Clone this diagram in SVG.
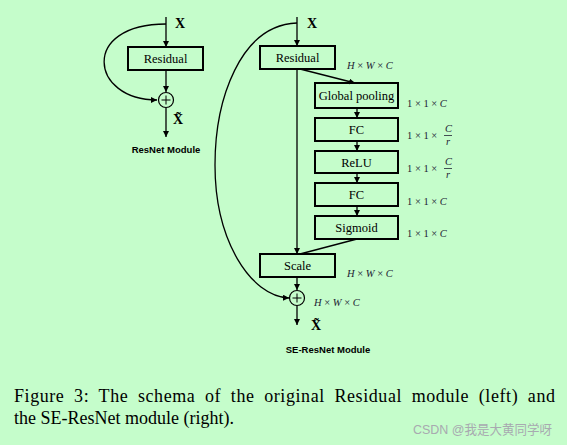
<svg xmlns="http://www.w3.org/2000/svg" width="567" height="445" viewBox="0 0 567 445">
<style>
.bg{fill:#c5fdcb}
.box{fill:none;stroke:#000;stroke-width:2}
.ln{fill:none;stroke:#000;stroke-width:1.3}
.lbl{font-family:"Liberation Serif",serif;font-size:12.5px;fill:#000;text-anchor:middle}
.x{font-family:"Liberation Serif",serif;font-size:14px;font-weight:bold;fill:#000}
.mod{font-family:"Liberation Sans",sans-serif;font-size:9.5px;font-weight:bold;fill:#000;text-anchor:middle}
.dim{font-family:"Liberation Serif",serif;font-size:10.5px;fill:#223}
.dim tspan.i{font-style:italic}
.cap{font-family:"Liberation Serif",serif;font-size:18px;fill:#000}
.wm{font-family:"Liberation Sans","Noto Sans CJK SC",sans-serif;font-size:13px;fill:#a8aab0}
</style>
<defs>
<marker id="ah" viewBox="0 0 8 8" refX="8" refY="4" markerWidth="6" markerHeight="6" orient="auto" markerUnits="userSpaceOnUse">
<path d="M0,0 L8,4 L0,8 z" fill="#000"/>
</marker>
</defs>
<rect class="bg" x="0" y="0" width="567" height="445"/>

<g id="connectors">
<line class="ln" x1="166" y1="17" x2="166" y2="47" marker-end="url(#ah)"/>
<line class="ln" x1="166" y1="70" x2="166" y2="92" marker-end="url(#ah)"/>
<line class="ln" x1="166" y1="108" x2="166" y2="137" marker-end="url(#ah)"/>
<path class="ln" d="M166,24 C80,24 90,100 157,100" marker-end="url(#ah)"/>
<line class="ln" x1="297" y1="17" x2="297" y2="46" marker-end="url(#ah)"/>
<line class="ln" x1="297" y1="69" x2="297" y2="254" marker-end="url(#ah)"/>
<line class="ln" x1="300" y1="69" x2="355" y2="83" marker-end="url(#ah)"/>
<line class="ln" x1="357" y1="108" x2="357" y2="118" marker-end="url(#ah)"/>
<line class="ln" x1="357" y1="141" x2="357" y2="151" marker-end="url(#ah)"/>
<line class="ln" x1="357" y1="173" x2="357" y2="183" marker-end="url(#ah)"/>
<line class="ln" x1="357" y1="206" x2="357" y2="216" marker-end="url(#ah)"/>
<line class="ln" x1="357" y1="239" x2="300" y2="254"/>
<line class="ln" x1="297" y1="277" x2="297" y2="290" marker-end="url(#ah)"/>
<line class="ln" x1="297" y1="306" x2="297" y2="325" marker-end="url(#ah)"/>
<path class="ln" d="M297,23 C240,25 215,100 215,165 C215,240 250,296 289,298" marker-end="url(#ah)"/>
</g>

<g id="left-input"><text class="x" x="175" y="28">X</text></g>
<g id="left-residual"><rect class="box" x="128" y="47" width="75" height="23"/><text class="lbl" x="165.5" y="63">Residual</text></g>
<g id="left-add"><circle cx="166" cy="100" r="7.5" fill="none" stroke="#000" stroke-width="1.2"/><path d="M166,95.5 V104.5 M161.5,100 H170.5" stroke="#000" stroke-width="1"/></g>
<g id="left-output"><text class="x" x="173" y="124">X̃</text></g>
<g id="left-title"><text class="mod" x="166" y="153">ResNet Module</text></g>

<g id="right-input"><text class="x" x="307" y="28">X</text></g>
<g id="right-residual"><rect class="box" x="260" y="46" width="75" height="23"/><text class="lbl" x="297.5" y="62">Residual</text></g>
<g id="dim1"><text class="dim" x="347" y="69"><tspan class="i">H</tspan> × <tspan class="i">W</tspan> × <tspan class="i">C</tspan></text></g>
<g id="global-pooling"><rect class="box" x="315" y="83" width="83" height="25"/><text class="lbl" x="356.5" y="100">Global pooling</text></g>
<g id="dim2"><text class="dim" x="407" y="107">1 × 1 × <tspan class="i">C</tspan></text></g>
<g id="fc1"><rect class="box" x="315" y="118" width="83" height="23"/><text class="lbl" x="356.5" y="134">FC</text></g>
<g id="dim3"><text class="dim" x="407" y="139">1 × 1 ×</text><text class="dim" x="445" y="132" font-style="italic">C</text><line x1="444" y1="135.5" x2="452" y2="135.5" stroke="#223" stroke-width="0.8"/><text class="dim" x="446" y="145" font-style="italic">r</text></g>
<g id="relu"><rect class="box" x="315" y="151" width="83" height="22"/><text class="lbl" x="356.5" y="167">ReLU</text></g>
<g id="dim4"><text class="dim" x="407" y="172">1 × 1 ×</text><text class="dim" x="445" y="165" font-style="italic">C</text><line x1="444" y1="168.5" x2="452" y2="168.5" stroke="#223" stroke-width="0.8"/><text class="dim" x="446" y="178" font-style="italic">r</text></g>
<g id="fc2"><rect class="box" x="315" y="183" width="83" height="23"/><text class="lbl" x="356.5" y="199">FC</text></g>
<g id="dim5"><text class="dim" x="407" y="205">1 × 1 × <tspan class="i">C</tspan></text></g>
<g id="sigmoid"><rect class="box" x="315" y="216" width="83" height="23"/><text class="lbl" x="356.5" y="232">Sigmoid</text></g>
<g id="dim6"><text class="dim" x="407" y="237">1 × 1 × <tspan class="i">C</tspan></text></g>
<g id="scale"><rect class="box" x="260" y="254" width="75" height="23"/><text class="lbl" x="297.5" y="270">Scale</text></g>
<g id="dim7"><text class="dim" x="347" y="277"><tspan class="i">H</tspan> × <tspan class="i">W</tspan> × <tspan class="i">C</tspan></text></g>
<g id="right-add"><circle cx="297" cy="298" r="7.5" fill="none" stroke="#000" stroke-width="1.2"/><path d="M297,293.5 V302.5 M292.5,298 H301.5" stroke="#000" stroke-width="1"/></g>
<g id="dim8"><text class="dim" x="314" y="306"><tspan class="i">H</tspan> × <tspan class="i">W</tspan> × <tspan class="i">C</tspan></text></g>
<g id="right-output"><text class="x" x="311" y="330">X̃</text></g>
<g id="right-title"><text class="mod" x="328" y="353">SE-ResNet Module</text></g>

<g id="caption">
<text class="cap" x="14" y="402" word-spacing="4.6" textLength="541" lengthAdjust="spacing">Figure 3: The schema of the original Residual module (left) and</text>
<text class="cap" x="14" y="424">the SE-ResNet module (right).</text>
</g>
<text class="wm" x="413" y="434" textLength="139" lengthAdjust="spacingAndGlyphs">CSDN @我是大黄同学呀</text>
</svg>
